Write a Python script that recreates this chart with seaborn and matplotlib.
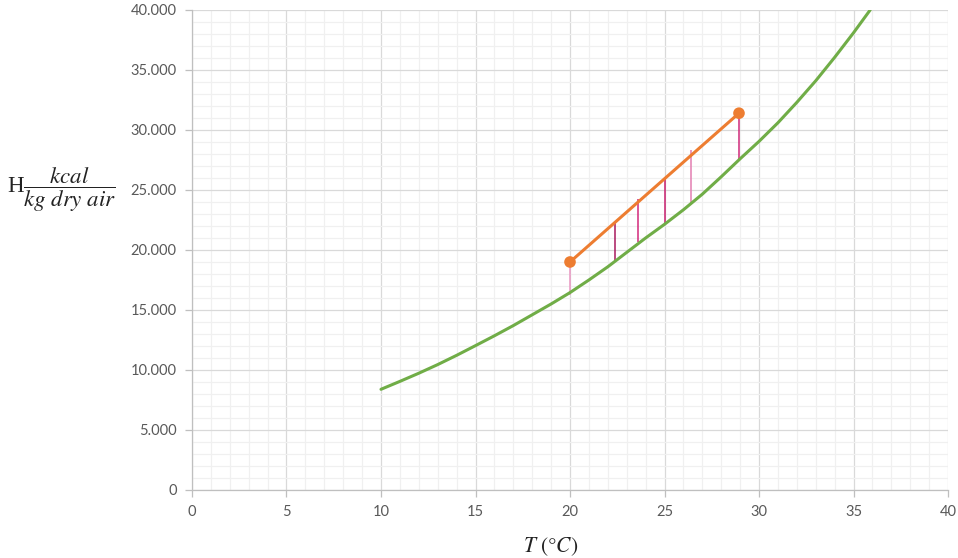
import matplotlib
matplotlib.use("Agg")
import matplotlib.pyplot as plt
from matplotlib.ticker import MultipleLocator, FuncFormatter
import seaborn as sns
import pandas as pd

# ---------------------------
# Data
# ---------------------------
# saturation enthalpy curve
t_sat = [10, 11, 12, 13, 14, 15, 16, 17, 18, 19, 20, 21, 22, 23, 24, 25,
         26, 27, 28, 29, 30, 31, 32, 33, 34, 35, 35.88]
h_sat = [8390, 9050, 9730, 10450, 11220, 12030, 12850, 13700, 14600, 15500,
         16450, 17500, 18600, 19800, 21000, 22140, 23350, 24650, 26100, 27600,
         29050, 30600, 32300, 34100, 36050, 38100, 40000]

# operating line
t_op = [20.0, 28.94]
h_op = [19000, 31400]

# tie lines
t_tie = [20.0, 22.4, 23.6, 25.0, 26.4, 28.94]
h_tie_top = [19000, 22360, 24220, 25970, 28330, 31390]
h_tie_bottom = [16250, 18970, 20700, 22140, 23830, 27500]
tie_colors = ['#ea98c3', '#a8195e', '#d3287a', '#c9206f', '#e37fb2', '#d02a7a']

sat_df = pd.DataFrame({"T": t_sat, "H": h_sat})
op_df = pd.DataFrame({"T": t_op, "H": h_op})

# ---------------------------
# Figure
# ---------------------------
sns.set_theme(style="white")
plt.rcParams['font.family'] = ['Lato', 'DejaVu Sans']
plt.rcParams['mathtext.fontset'] = 'stix'

fig = plt.figure(figsize=(9.58, 5.58), dpi=100)
ax = fig.add_axes([0.2004, 0.1219, 0.7892, 0.8602])

ax.set_xlim(0, 40)
ax.set_ylim(0, 40000)
ax.xaxis.set_major_locator(MultipleLocator(5))
ax.xaxis.set_minor_locator(MultipleLocator(1))
ax.yaxis.set_major_locator(MultipleLocator(5000))
ax.yaxis.set_minor_locator(MultipleLocator(1000))
ax.grid(which='major', color='#d9d9d9', linewidth=0.9)
ax.grid(which='minor', color='#f0f0f0', linewidth=0.9)
ax.set_axisbelow(True)

ax.yaxis.set_major_formatter(FuncFormatter(lambda v, p: f"{int(v):,}".replace(",", ".")))

for s in ['top', 'right']:
    ax.spines[s].set_visible(False)
for s in ['left', 'bottom']:
    ax.spines[s].set_color('#bfbfbf')
    ax.spines[s].set_linewidth(0.9)

ax.tick_params(axis='both', which='major', direction='out', length=5, width=0.9,
               color='#bfbfbf', labelsize=10.5, labelcolor='#595959', pad=6)
ax.tick_params(axis='both', which='minor', length=0)
ax.tick_params(left=True, bottom=True)

# tie lines
ax.vlines(t_tie, h_tie_bottom, h_tie_top, colors=tie_colors, linewidth=1.1, zorder=2)

# curves
sns.lineplot(data=sat_df, x="T", y="H", color='#70ad47', linewidth=2.2, ax=ax,
             sort=False, zorder=3)
sns.lineplot(data=op_df, x="T", y="H", color='#ed7d31', linewidth=2.2, ax=ax,
             sort=False, zorder=4)
sns.scatterplot(data=op_df, x="T", y="H", color='#ed7d31', s=70, edgecolor='none',
                ax=ax, zorder=5)

ax.set_xlabel(r'$T\ (°C)$', fontsize=15.5, color='#222222')
ax.xaxis.set_label_coords(0.475, -0.095)
ax.set_ylabel('')
fig.text(0.064, 0.66, r'H$\dfrac{kcal}{kg\ dry\ air}$', fontsize=16.5,
         family=['Liberation Serif', 'DejaVu Serif'], ha='center', va='center',
         color='#222222')

fig.savefig("out.png", dpi=100)
